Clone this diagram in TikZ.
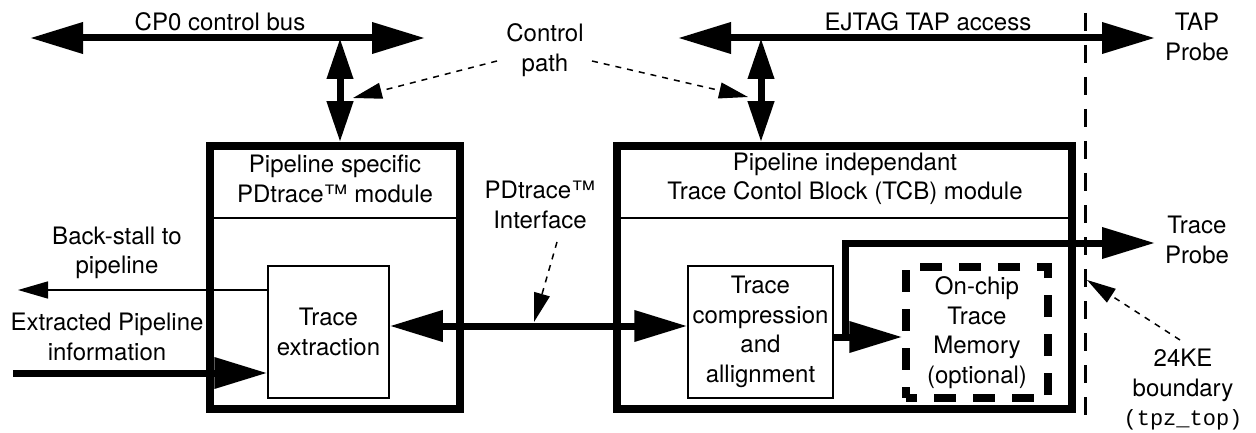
\documentclass[tikz,border=0pt]{standalone}
\usepackage{fontspec}
\setmainfont{TeX Gyre Heros}
\newfontfamily\cour{Liberation Mono}
\usetikzlibrary{arrows.meta}
\tikzset{
  lbl/.style={inner sep=0pt, align=center, font=\fontsize{24}{29.5}\selectfont},
  bigbox/.style={draw, line width=7.5pt, inner sep=0pt, anchor=center},
  smallbox/.style={draw, line width=1.5pt, inner sep=0pt, anchor=center},
  membox/.style={draw, line width=7.5pt, dash pattern=on 22pt off 17pt, dash phase=11pt, inner sep=0pt},
  divline/.style={line width=1.5pt},
  bus/.style={line width=7pt, {Triangle[length=53pt,width=30pt]}-{Triangle[length=53pt,width=30pt]}},
  vbus/.style={line width=7pt, {Triangle[length=41pt,width=25pt]}-{Triangle[length=41pt,width=25pt]}},
  fat/.style={line width=7pt, -{Triangle[length=53pt,width=30pt]}},
  thinarr/.style={line width=1.5pt, -{Triangle[length=30pt,width=17pt]}},
  dotarr/.style={line width=1.5pt, dash pattern=on 6pt off 6pt, -{Triangle[length=29pt,width=16pt]}},
  boundary/.style={line width=3pt, dash pattern=on 18pt off 14pt}
}
\begin{document}
\begin{tikzpicture}[x=1pt,y=-1pt]
\useasboundingbox (0,0) rectangle (1256,433);
% boxes
\node[bigbox, minimum width=250pt, minimum height=263pt] (lbox) at (335,277.5) {};
\node[bigbox, minimum width=455pt, minimum height=263pt] (rbox) at (844.5,277.5) {};
\draw[divline] (lbox.west |- 0,218) -- (lbox.east |- 0,218);
\draw[divline] (rbox.west |- 0,218) -- (rbox.east |- 0,218);
\node[smallbox, minimum width=121pt, minimum height=132pt] (ext) at (328.5,332) {};
\node[smallbox, minimum width=145pt, minimum height=132pt] (cmp) at (760.5,332) {};
\node[membox, minimum width=142pt, minimum height=131pt] (mem) at (977,332.5) {};
% texts
\node[lbl] (cp0t) at (220,22) {CP0 control bus};
\node[lbl] (ejt) at (928,22) {EJTAG TAP access};
\node[lbl] (tapt) at (1197,37) {TAP\\Probe};
\node[lbl] (ctrl) at (545,50) {Control\\path};
\node[lbl] (t1) at (335,179) {Pipeline specific\\PDtrace™ module};
\node[lbl] (t2) at (845,179) {Pipeline independant\\Trace Contol Block (TCB) module};
\node[lbl] (pdif) at (540,205) {PDtrace™\\Interface};
\node[lbl] (bst) at (117,253) {Back-stall to\\pipeline};
\node[lbl] (exi) at (107,337) {Extracted Pipeline\\information};
\node[lbl] (trp) at (1197,240) {Trace\\Probe};
\node[lbl] (bnd) at (1183,390) {24KE\\boundary\\{\cour\fontsize{22}{29.5}\selectfont(tpz\_top)}};
\node[lbl] at (ext) {Trace\\extraction};
\node[lbl] at (cmp) {Trace\\compression\\and\\allignment};
\node[lbl] at (mem) {On-chip\\Trace\\Memory\\(optional)};
% coordinates
\coordinate (cp0L) at (30,38);
\coordinate (cp0R) at (425,38);
\coordinate (cp0J) at (340,38);
\coordinate (ejL) at (678,38);
\coordinate (ejR) at (1155,38);
\coordinate (ejJ) at (761,38);
\coordinate (inS) at (13,373);
\coordinate (bsE) at (18,290);
\coordinate (tpJ) at (845,337);
\coordinate (tpC) at (845,243);
\coordinate (tpE) at (1155,243);
\coordinate (bT) at (1085,13);
\coordinate (bB) at (1085,422);
\coordinate (c1s) at (497,61);
\coordinate (c1e) at (353,98);
\coordinate (c2s) at (592,61);
\coordinate (c2e) at (748,97);
\coordinate (pds) at (557,242);
\coordinate (pde) at (534,322);
\coordinate (bds) at (1180,340);
\coordinate (bde) at (1087,280);
% buses
\draw[bus] (cp0L) -- (cp0R);
\draw[vbus] (cp0J) -- (cp0J |- lbox.north);
\draw[bus] (ejL) -- (ejR);
\draw[vbus] (ejJ) -- (ejJ |- rbox.north);
\draw[bus] (ext.east |- 0,326) -- (cmp.west |- 0,326);
\draw[fat] (inS) -- (inS -| ext.west);
\draw[thinarr] (ext.west |- bsE) -- (bsE);
\draw[fat] (cmp.east |- tpJ) -- (tpJ -| mem.west);
\draw[fat, miter limit=10] (tpJ) -- (tpC) -- (tpE);
\draw[boundary] (bT) -- (bB);
% dotted pointers
\draw[dotarr] (c1s) -- (c1e);
\draw[dotarr] (c2s) -- (c2e);
\draw[dotarr] (pds) -- (pde);
\draw[dotarr] (bds) -- (bde);
\end{tikzpicture}
\end{document}
